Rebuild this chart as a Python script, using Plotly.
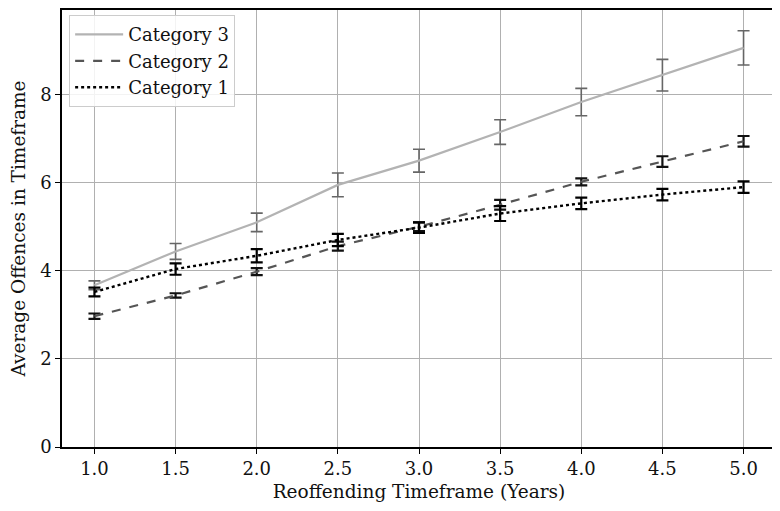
import plotly.graph_objects as go

years = [1.0, 1.5, 2.0, 2.5, 3.0, 3.5, 4.0, 4.5, 5.0]

cat3_mean = [3.67, 4.44, 5.1, 5.95, 6.5, 7.15, 7.83, 8.44, 9.06]
cat3_err = [0.1, 0.18, 0.21, 0.27, 0.26, 0.28, 0.31, 0.36, 0.39]

cat2_mean = [2.97, 3.44, 3.98, 4.56, 5.0, 5.5, 6.02, 6.48, 6.94]
cat2_err = [0.06, 0.05, 0.08, 0.1, 0.1, 0.11, 0.08, 0.12, 0.12]

cat1_mean = [3.52, 4.04, 4.34, 4.7, 4.98, 5.3, 5.53, 5.73, 5.9]
cat1_err = [0.1, 0.13, 0.15, 0.14, 0.12, 0.17, 0.13, 0.13, 0.13]

font_main = "DejaVu Serif, serif"

fig = go.Figure()

# category 3: light solid line, grey caps
fig.add_trace(go.Scatter(
    x=years, y=cat3_mean, name="Category 3", mode="lines",
    line=dict(color="#b3b3b3", width=2.2),
    error_y=dict(type="data", array=cat3_err, color="#666666", thickness=1.6, width=6),
))
# category 2: dashed
fig.add_trace(go.Scatter(
    x=years, y=cat2_mean, name="Category 2", mode="lines",
    line=dict(color="#555555", width=2.2, dash="dash"),
    error_y=dict(type="data", array=cat2_err, color="#111111", thickness=2.2, width=6),
))
# category 1: dotted
fig.add_trace(go.Scatter(
    x=years, y=cat1_mean, name="Category 1", mode="lines",
    line=dict(color="#000000", width=2.4, dash="dot"),
    error_y=dict(type="data", array=cat1_err, color="#000000", thickness=2.2, width=6),
))

axis_common = dict(
    showgrid=True, gridcolor="#b0b0b0", gridwidth=1.3,
    showline=True, linecolor="#000000", linewidth=1.5, mirror=True,
    ticks="outside", ticklen=5, tickcolor="#000000",
    zeroline=False, automargin=False,
    tickfont=dict(family=font_main, size=18, color="#111111"),
)

fig.update_layout(
    width=780, height=511,
    margin=dict(l=54, r=12, t=2, b=72),
    paper_bgcolor="white", plot_bgcolor="white",
    font=dict(family=font_main, color="#111111"),
    showlegend=True,
    legend=dict(
        x=0.01, y=0.988, xanchor="left", yanchor="top",
        bgcolor="rgba(255,255,255,0.85)", bordercolor="#cccccc", borderwidth=1,
        font=dict(family=font_main, size=18, color="#111111"),
        traceorder="normal", tracegroupgap=3, itemwidth=48,
    ),
    xaxis=dict(
        axis_common, range=[0.8, 5.2],
        tickvals=years, ticktext=["%.1f" % v for v in years],
        title=dict(text="Reoffending Timeframe (Years)", font=dict(family=font_main, size=18.5), standoff=7),
    ),
    yaxis=dict(
        axis_common, range=[0, 9.92], tickvals=[0, 2, 4, 6, 8],
        title=dict(text="Average Offences in Timeframe", font=dict(family=font_main, size=18.5), standoff=11),
    ),
)

fig.write_html("out.html")
